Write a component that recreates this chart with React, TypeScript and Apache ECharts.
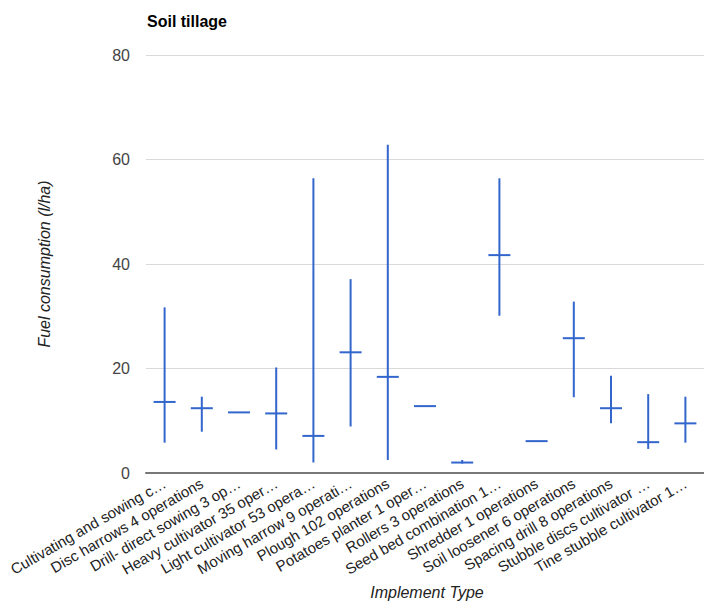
import React, { useEffect, useRef } from "react";
import * as echarts from "echarts";

const categories = [
  "Cultivating and sowing c…",
  "Disc harrows 4 operations",
  "Drill- direct sowing 3 op…",
  "Heavy cultivator 35 oper…",
  "Light cultivator 53 opera…",
  "Moving harrow 9 operati…",
  "Plough 102 operations",
  "Potatoes planter 1 oper…",
  "Rollers 3 operations",
  "Seed bed combination 1…",
  "Shredder 1 operations",
  "Soil loosener 6 operations",
  "Spacing drill 8 operations",
  "Stubble discs cultivator …",
  "Tine stubble cultivator 1…",
];
const minValues = [5.8, 7.9, 11.6, 4.5, 2.0, 8.9, 2.5, 12.8, 1.8, 30.1, 6.1, 14.5, 9.5, 4.6, 5.8];
const maxValues = [31.7, 14.6, 11.6, 20.2, 56.4, 37.1, 62.8, 12.8, 2.5, 56.4, 6.1, 32.8, 18.6, 15.1, 14.6];
const meanValues = [13.6, 12.4, 11.6, 11.4, 7.1, 23.1, 18.4, 12.8, 2.0, 41.7, 6.1, 25.8, 12.4, 5.9, 9.5];
const yTicks = [0, 20, 40, 60, 80];

const BLUE = "#3366cc";
const FONT = "'Liberation Sans', Arial, sans-serif";

export default function App() {
  const ref = useRef<HTMLDivElement>(null);
  useEffect(() => {
    if (!ref.current) return;
    const chart = echarts.init(ref.current, null, { renderer: "svg" });
    const data = categories.map((_, i) => [i, minValues[i], maxValues[i], meanValues[i]]);
    chart.setOption({
      animation: false,
      textStyle: { fontFamily: FONT },
      title: {
        text: "Soil tillage",
        left: 142,
        top: 8,
        textStyle: { fontFamily: FONT, fontSize: 16, fontWeight: "bold", color: "#000" },
      },
      grid: { left: 146, right: 0, top: 55, bottom: 128, containLabel: false },
      xAxis: {
        type: "category",
        data: categories,
        boundaryGap: true,
        axisTick: { show: false },
        axisLine: { lineStyle: { color: "#777", width: 2 } },
        axisLabel: {
          rotate: 30,
          interval: 0,
          margin: 9,
          fontFamily: FONT,
          fontSize: 15,
          color: "#222",
        },
      },
      yAxis: {
        type: "value",
        min: yTicks[0],
        max: yTicks[yTicks.length - 1],
        interval: 20,
        axisLine: { show: false },
        axisTick: { show: false },
        axisLabel: { margin: 16, fontFamily: FONT, fontSize: 16, color: "#444" },
        splitLine: { lineStyle: { color: "#d9d9d9", width: 1 } },
      },
      graphic: [
        {
          type: "text",
          x: 44,
          y: 264,
          rotation: Math.PI / 2,
          style: {
            text: "Fuel consumption (l/ha)",
            fontFamily: FONT,
            fontSize: 16,
            fontStyle: "italic",
            fill: "#222",
            textAlign: "center",
            textVerticalAlign: "middle",
          },
        },
        {
          type: "text",
          x: 427,
          y: 592,
          style: {
            text: "Implement Type",
            fontFamily: FONT,
            fontSize: 16,
            fontStyle: "italic",
            fill: "#222",
            textAlign: "center",
            textVerticalAlign: "middle",
          },
        },
      ],
      series: [
        {
          type: "custom",
          data,
          encode: { x: 0, y: [1, 2, 3] },
          renderItem: (params: any, api: any) => {
            const x = api.value(0);
            const pMin = api.coord([x, api.value(1)]);
            const pMax = api.coord([x, api.value(2)]);
            const pMean = api.coord([x, api.value(3)]);
            const half = 11;
            return {
              type: "group",
              children: [
                {
                  type: "line",
                  shape: { x1: pMin[0], y1: pMin[1], x2: pMax[0], y2: pMax[1] },
                  style: { stroke: BLUE, lineWidth: 2 },
                },
                {
                  type: "line",
                  shape: { x1: pMean[0] - half, y1: pMean[1], x2: pMean[0] + half, y2: pMean[1] },
                  style: { stroke: BLUE, lineWidth: 2 },
                },
              ],
            };
          },
        },
      ],
    });
    return () => chart.dispose();
  }, []);
  return (
    <div
      ref={ref}
      style={{ position: "absolute", left: 0, top: 0, width: 704, height: 601 }}
    />
  );
}
